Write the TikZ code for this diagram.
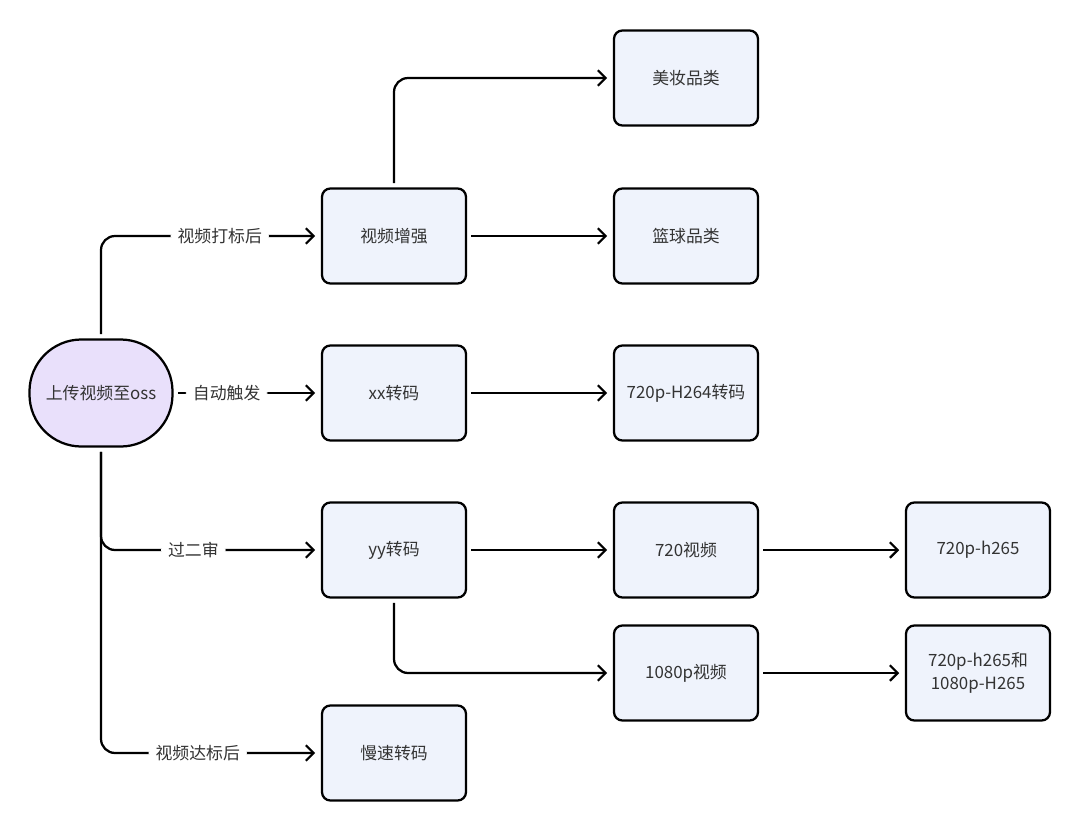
\documentclass[tikz,border=0pt]{standalone}
\usepackage{fontspec}
\setmainfont{Noto Sans CJK SC}
\usetikzlibrary{arrows.meta}
\definecolor{boxfill}{HTML}{EFF3FC}
\definecolor{startfill}{HTML}{E9E0FB}
\definecolor{txt}{HTML}{333333}
\tikzset{
  box/.style={draw,rounded corners=6pt,fill=boxfill,minimum width=3.6cm,minimum height=2.375cm,text=txt,align=center},
  start/.style={draw,rounded corners=1.3cm,fill=startfill,minimum width=3.575cm,minimum height=2.675cm,text=txt},
  lbl/.style={fill=white,text=txt,inner xsep=5pt,inner ysep=2pt,line width=0pt},
  link/.style={->,rounded corners=10pt,shorten <=3pt,shorten >=4pt}
}
\begin{document}
\begin{tikzpicture}[x=0.025cm,y=-0.025cm,>={Straight Barb[length=5.5pt,width=11pt]},font=\fontsize{12}{16}\selectfont,line width=1.6pt]
  \useasboundingbox (0,0) rectangle (1080,831);
  \node[start] (oss) at (101,393) {上传视频至oss};
  \node[box] (enh) at (394,236) {视频增强};
  \node[box] (xx) at (394,393) {xx转码};
  \node[box] (yy) at (394,550) {yy转码};
  \node[box] (slow) at (394,753) {慢速转码};
  \node[box] (beauty) at (686,78) {美妆品类};
  \node[box] (ball) at (686,236) {篮球品类};
  \node[box] (h264) at (686,393) {720p-H264转码};
  \node[box] (v720) at (686,550) {720视频};
  \node[box] (v1080) at (686,673) {1080p视频};
  \node[box] (h265a) at (978,550) {720p-h265};
  \node[box] (h265b) at (978,673) {720p-h265和\\1080p-H265};
  % from the upload
  \draw[link] (oss.north) |- (enh.west) node[lbl,pos=0.77] {视频打标后};
  \draw[link] (oss.east) -- (xx.west) node[lbl,pos=0.36] {自动触发};
  \draw[link] (oss.south) |- (yy.west) node[lbl,pos=0.71] {过二审};
  \draw[link] (oss.south) |- (slow.west) node[lbl,pos=0.72] {视频达标后};
  % second level
  \draw[link] (enh.north) |- (beauty.west);
  \draw[link] (enh.east) -- (ball.west);
  \draw[link] (xx.east) -- (h264.west);
  \draw[link] (yy.east) -- (v720.west);
  \draw[link] (yy.south) |- (v1080.west);
  \draw[link] (v720.east) -- (h265a.west);
  \draw[link] (v1080.east) -- (h265b.west);
\end{tikzpicture}
\end{document}
